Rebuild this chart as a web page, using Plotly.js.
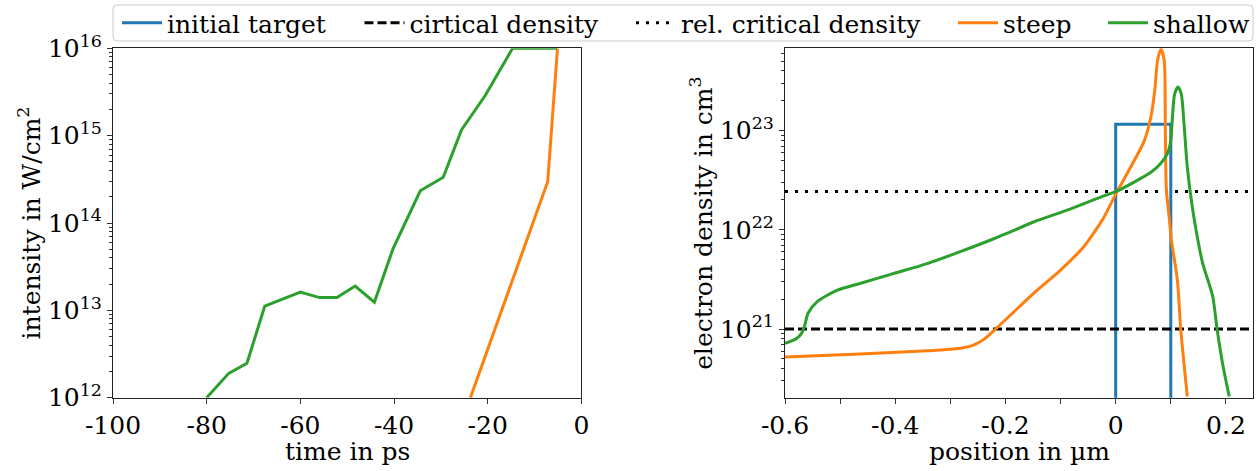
<!DOCTYPE html>
<html>
<head>
<meta charset="utf-8">
<script src="https://cdn.plot.ly/plotly-3.0.1.min.js"></script>
<style>html,body{margin:0;padding:0;background:#fff;}#chart{width:1257px;height:471px;}</style>
</head>
<body>
<div id="chart"></div>
<script>
// ---------- data ----------
const leftXTicks = [-100, -80, -60, -40, -20, 0];
const leftXTickText = ['-100', '-80', '-60', '-40', '-20', '0'];
const leftYTicks = [1e12, 1e13, 1e14, 1e15, 1e16];
const leftYTickText = ['10<sup>12</sup>', '10<sup>13</sup>', '10<sup>14</sup>', '10<sup>15</sup>', '10<sup>16</sup>'];

const rightXTicks = [-0.6, -0.5, -0.4, -0.3, -0.2, -0.1, 0, 0.1, 0.2];
const rightXTickText = ['-0.6', '', '-0.4', '', '-0.2', '', '0', '', '0.2'];
const rightYTicks = [1e21, 1e22, 1e23];
const rightYTickText = ['10<sup>21</sup>', '10<sup>22</sup>', '10<sup>23</sup>'];

const leftXTitle = 'time in ps';
const leftYTitle = 'intensity in W/cm<sup>2</sup>';
const rightXTitle = 'position in µm';
const rightYTitle = 'electron density in cm<sup>3</sup>';

// left panel: intensity vs time
const shallowTime = [-80, -75.3, -71.4, -67.6, -60.0, -55.9, -52.2, -48.3, -44.2, -40.2, -34.4, -29.5, -25.6, -20.5, -14.7, -5.2];
const shallowIntensity = [1.0e12, 1.9e12, 2.48e12, 1.12e13, 1.62e13, 1.4e13, 1.4e13, 1.9e13, 1.24e13, 5.1e13, 2.34e14, 3.34e14, 1.16e15, 2.9e15, 1e16, 1e16];
const steepTime = [-23.7, -7.2, -5.1];
const steepIntensity = [1e12, 2.97e14, 1e16];

// right panel: electron density vs position
const initialX = [0, 0, 0.1, 0.1];
const initialDensity = [1e19, 1.16e23, 1.16e23, 1e19];
const criticalX = [-0.6, 0.25];
const criticalDensity = [1e21, 1e21];
const relCriticalDensity = [2.43e22, 2.43e22];

const steepX = [-0.6, -0.464, -0.342, -0.282, -0.258, -0.239, -0.218, -0.191, -0.149, -0.1, -0.058, -0.036, -0.021, 0.002, 0.027, 0.052, 0.064, 0.071, 0.076, 0.082, 0.088, 0.090, 0.092, 0.097, 0.101, 0.112, 0.118, 0.130];
const steepDensity = [5.22e20, 5.6e20, 6.03e20, 6.4e20, 6.9e20, 7.87e20, 1.0e21, 1.38e21, 2.29e21, 3.93e21, 6.76e21, 1.0e22, 1.35e22, 2.4e22, 4.27e22, 7.94e22, 1.38e23, 2.57e23, 5.13e23, 6.6e23, 5.13e23, 1.17e23, 2.51e22, 1.35e22, 7.94e21, 3.09e21, 1.0e21, 2.09e20];

const shallowX = [-0.6, -0.579, -0.570, -0.565, -0.558, -0.542, -0.506, -0.464, -0.403, -0.342, -0.282, -0.221, -0.191, -0.149, -0.088, -0.027, 0.002, 0.033, 0.064, 0.082, 0.094, 0.100, 0.103, 0.107, 0.113, 0.119, 0.124, 0.130, 0.139, 0.149, 0.158, 0.176, 0.184, 0.194, 0.206];
const shallowDensity = [7.18e20, 8.05e20, 9.06e20, 1.05e21, 1.45e21, 1.88e21, 2.45e21, 2.88e21, 3.63e21, 4.57e21, 6.03e21, 8.13e21, 9.55e21, 1.2e22, 1.58e22, 2.14e22, 2.45e22, 3.02e22, 3.8e22, 4.68e22, 5.89e22, 7.94e22, 1.38e23, 2.34e23, 2.75e23, 2.34e23, 1.17e23, 4.27e22, 1.7e22, 7.94e21, 4.57e21, 2.14e21, 1.0e21, 4.47e20, 2.09e20];

// ---------- layout helpers ----------
const W = 1257, H = 471;
const fx = p => p / W;
const fy = p => 1 - p / H;
const FONT = 'DejaVu Serif, serif';
const FS = 25;
const BLUE = '#1f77b4', ORANGE = '#ff7f0e', GREEN = '#2ca02c';

function minorLog(lo, hi) {
  const v = [];
  for (let d = lo; d <= hi; d++) for (let k = 2; k <= 9; k++) v.push(k * Math.pow(10, d));
  return v;
}

const traces = [
  {x: initialX, y: initialDensity, xaxis: 'x2', yaxis: 'y2', mode: 'lines', name: 'initial target',
   line: {color: BLUE, width: 3}, legend: 'legend'},
  {x: criticalX, y: criticalDensity, xaxis: 'x2', yaxis: 'y2', mode: 'lines', name: 'cirtical density',
   line: {color: '#000', width: 3, dash: '9px,4px'}, legend: 'legend2'},
  {x: criticalX, y: relCriticalDensity, xaxis: 'x2', yaxis: 'y2', mode: 'lines', name: 'rel. critical density',
   line: {color: '#000', width: 3, dash: '3px,7px'}, legend: 'legend3'},
  {x: steepX, y: steepDensity, xaxis: 'x2', yaxis: 'y2', mode: 'lines', name: 'steep',
   line: {color: ORANGE, width: 3, shape: 'spline', smoothing: 0.7}, legend: 'legend4'},
  {x: shallowX, y: shallowDensity, xaxis: 'x2', yaxis: 'y2', mode: 'lines', name: 'shallow',
   line: {color: GREEN, width: 3, shape: 'spline', smoothing: 0.7}, legend: 'legend5'},
  {x: steepTime, y: steepIntensity, xaxis: 'x', yaxis: 'y', mode: 'lines', name: 'steep',
   line: {color: ORANGE, width: 3}, showlegend: false},
  {x: shallowTime, y: shallowIntensity, xaxis: 'x', yaxis: 'y', mode: 'lines', name: 'shallow',
   line: {color: GREEN, width: 3}, showlegend: false}
];

const axBase = {
  showline: true, linecolor: '#222', linewidth: 1, mirror: true,
  ticks: 'outside', ticklen: 5, tickwidth: 1, tickcolor: '#333',
  showgrid: false, zeroline: false, tickfont: {family: FONT, size: FS, color: '#000'},
  tickmode: 'array'
};

function legendAt(lineStartPx) {
  return {
    x: fx(lineStartPx - 5), y: fy(23), xanchor: 'left', yanchor: 'middle',
    orientation: 'h', bgcolor: 'rgba(0,0,0,0)', borderwidth: 0,
    font: {family: FONT, size: FS, color: '#000'}, itemwidth: 40
  };
}

// legend frame as rounded rectangle (pixel geometry -> paper)
function roundRect(x0, y0, x1, y1, r) {
  const P = (x, y) => fx(x) + ',' + fy(y);
  return 'M' + P(x0 + r, y0) + ' L' + P(x1 - r, y0) + ' Q' + P(x1, y0) + ' ' + P(x1, y0 + r) +
    ' L' + P(x1, y1 - r) + ' Q' + P(x1, y1) + ' ' + P(x1 - r, y1) +
    ' L' + P(x0 + r, y1) + ' Q' + P(x0, y1) + ' ' + P(x0, y1 - r) +
    ' L' + P(x0, y0 + r) + ' Q' + P(x0, y0) + ' ' + P(x0 + r, y0) + ' Z';
}

const leftDom = [fx(113), fx(581.4)];
const rightDom = [fx(785), fx(1253.3)];

const layout = {
  width: W, height: H,
  margin: {l: 0, r: 0, t: 0, b: 0},
  paper_bgcolor: '#fff', plot_bgcolor: '#fff',
  font: {family: FONT, size: FS, color: '#000'},
  xaxis: Object.assign({}, axBase, {
    domain: leftDom, range: [-100, 0], anchor: 'y',
    tickvals: leftXTicks, ticktext: leftXTickText
  }),
  yaxis: Object.assign({}, axBase, {
    type: 'log', domain: [fy(397.7), fy(48.3)], range: [12, 16], anchor: 'x',
    tickvals: leftYTicks, ticktext: leftYTickText,
    minor: {tickvals: minorLog(12, 15), ticks: 'outside', ticklen: 3, tickcolor: '#333'},
    title: {text: leftYTitle, font: {family: FONT, size: FS}}
  }),
  xaxis2: Object.assign({}, axBase, {
    domain: rightDom, range: [-0.6, 0.2497], anchor: 'y2',
    tickvals: rightXTicks, ticktext: rightXTickText
  }),
  yaxis2: Object.assign({}, axBase, {
    type: 'log', domain: [fy(397.7), fy(48.3)], range: [20.308, 23.83], anchor: 'x2',
    tickvals: rightYTicks, ticktext: rightYTickText,
    minor: {tickvals: minorLog(20, 23), ticks: 'outside', ticklen: 3, tickcolor: '#333'},
    title: {text: rightYTitle, font: {family: FONT, size: FS}}
  }),
  annotations: [
    {text: leftXTitle, xref: 'paper', yref: 'paper', x: (leftDom[0] + leftDom[1]) / 2, y: fy(451),
     xanchor: 'center', yanchor: 'middle', showarrow: false, font: {family: FONT, size: FS, color: '#000'}},
    {text: rightXTitle, xref: 'paper', yref: 'paper', x: (rightDom[0] + rightDom[1]) / 2, y: fy(451),
     xanchor: 'center', yanchor: 'middle', showarrow: false, font: {family: FONT, size: FS, color: '#000'}}
  ],
  legend: legendAt(122),
  legend2: legendAt(364.5),
  legend3: legendAt(636),
  legend4: legendAt(958),
  legend5: legendAt(1108),
  shapes: [{
    type: 'path', xref: 'paper', yref: 'paper', layer: 'below',
    path: roundRect(113, 5, 1253, 41, 4),
    line: {color: '#cccccc', width: 1}, fillcolor: 'rgba(255,255,255,0.8)'
  }]
};

Plotly.newPlot('chart', traces, layout, {displayModeBar: false, staticPlot: true});
</script>
</body>
</html>
